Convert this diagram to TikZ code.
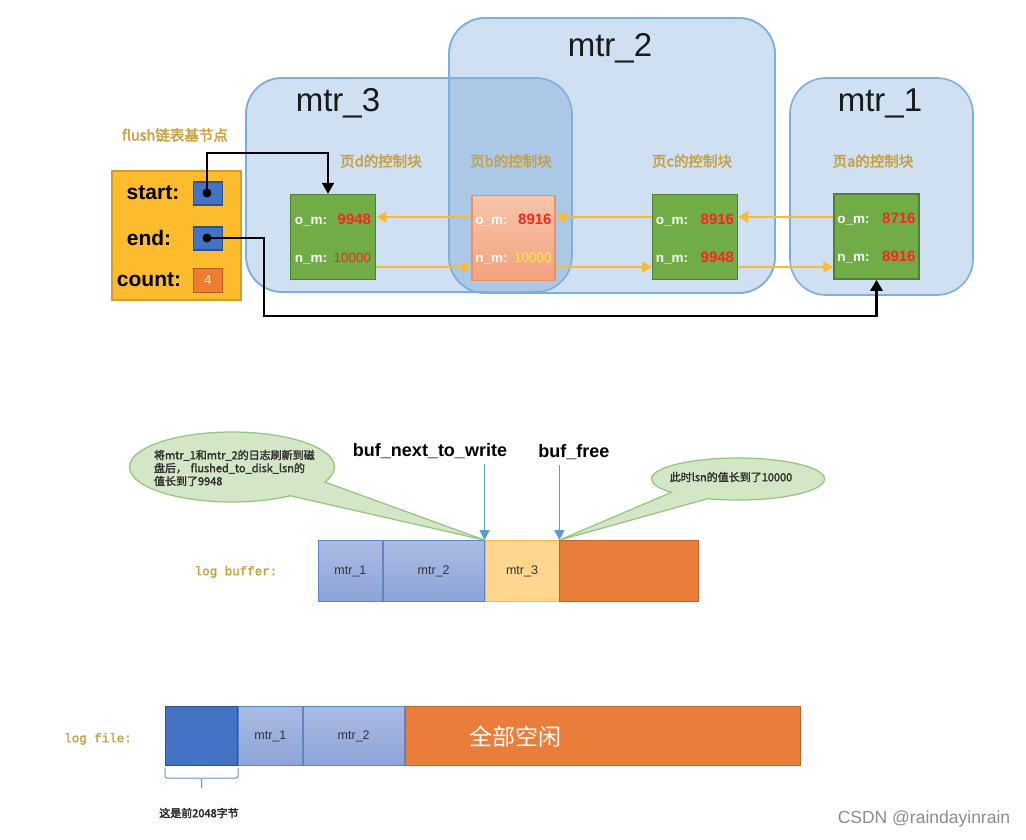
\documentclass[tikz,border=0pt]{standalone}
\usepackage{fontspec}
\setmainfont{Liberation Sans}
\newfontfamily\cjk[AutoFakeBold=2.5]{Noto Sans CJK SC}
\newfontfamily\monob[AutoFakeBold=2]{Liberation Mono}
\usetikzlibrary{arrows.meta,shapes.callouts,calc}
\newcommand\myfs[1]{\fontsize{#1}{#1}\selectfont}
\definecolor{mtrfill}{HTML}{CFE0F2}
\definecolor{mtrline}{HTML}{7EAEDC}
\definecolor{overlapc}{HTML}{ABC9E7}
\definecolor{goldc}{HTML}{C9A040}
\definecolor{flushfill}{HTML}{FCBC2E}
\definecolor{flushline}{HTML}{D89C2A}
\definecolor{ptrblue}{HTML}{4472C4}
\definecolor{ptrline}{HTML}{2F528F}
\definecolor{cntfill}{HTML}{ED7D31}
\definecolor{cntline}{HTML}{B85A20}
\definecolor{grn}{HTML}{70AD47}
\definecolor{grnline}{HTML}{507E32}
\definecolor{valred}{HTML}{FF2222}
\definecolor{valyel}{HTML}{FFF02A}
\definecolor{arrorange}{HTML}{FBBA34}
\definecolor{salmonA}{HTML}{F8C5A9}
\definecolor{salmonB}{HTML}{F3A27F}
\definecolor{salmonline}{HTML}{EE9060}
\definecolor{segA}{HTML}{ACBBE3}
\definecolor{segB}{HTML}{8CA4D8}
\definecolor{segline}{HTML}{5B86CC}
\definecolor{yelseg}{HTML}{FFD68E}
\definecolor{yelline}{HTML}{F5B840}
\definecolor{orng}{HTML}{EA7D3A}
\definecolor{orngline}{HTML}{BD632C}
\definecolor{callfill}{HTML}{D3E7C6}
\definecolor{callline}{HTML}{93C47D}
\definecolor{vline}{HTML}{5B9BD5}
\begin{document}
\begin{tikzpicture}[x=1pt,y=-1pt,
  mtrbox/.style={draw=mtrline, line width=1.6pt, fill=mtrfill, rounded corners=36pt, inner sep=0pt, outer sep=0pt},
  mtrlabel/.style={font=\myfs{33}, text=black!90, inner sep=0pt},
  goldlbl/.style={font=\cjk\bfseries\myfs{14.5}, text=goldc, inner sep=0pt},
  flushbox/.style={draw=flushline, fill=flushfill, line width=1.6pt, minimum width=129pt, minimum height=129pt, inner sep=0pt},
  ptrsq/.style={draw=ptrline, fill=ptrblue, line width=1.2pt, minimum width=29pt, minimum height=23pt, inner sep=0pt},
  cntsq/.style={draw=cntline, fill=cntfill, line width=1.2pt, minimum width=29pt, minimum height=24pt, inner sep=0pt, text=white, font=\myfs{13}},
  fieldlbl/.style={font=\bfseries\myfs{21}, inner sep=0pt},
  dotc/.style={circle, fill=black, minimum size=9pt, inner sep=0pt},
  pgblock/.style={draw=grnline, fill=grn, line width=1.5pt, minimum width=85pt, minimum height=85pt, inner sep=0pt},
  pgblockb/.style={draw=salmonline, top color=salmonA, bottom color=salmonB, line width=1.5pt, minimum width=83pt, minimum height=85pt, inner sep=0pt},
  keylbl/.style={font=\bfseries\myfs{13.5}, text=white, anchor=base west, inner sep=0pt},
  vallbl/.style={font=\bfseries\myfs{15}, text=valred, anchor=base east, inner sep=0pt},
  thinval/.style={font=\myfs{13.5}, text=valred, anchor=base east, inner sep=0pt},
  link/.style={draw=arrorange, line width=2.7pt, -{Triangle[length=10pt,width=11pt]}},
  blk/.style={draw=black, line width=2.4pt, -{Triangle[length=11pt,width=12pt]}},
  seg/.style={minimum height=61pt, inner sep=0pt, anchor=west, font=\myfs{12.5}, text=black!80},
  bluseg/.style={seg, draw=segline, top color=segA, bottom color=segB, line width=0.8pt},
  yseg/.style={seg, draw=yelline, fill=yelseg, line width=0.8pt},
  oseg/.style={seg, draw=orngline, fill=orng, line width=0.8pt},
  dseg/.style={seg, draw=ptrline, fill=ptrblue, line width=1pt},
  buflbl/.style={font=\bfseries\myfs{18}, inner sep=0pt},
  bufarrow/.style={draw=vline, line width=1.2pt, -{Triangle[length=10pt,width=10pt]}},
  callout/.style={ellipse callout, draw=callline, fill=callfill, line width=1.2pt, callout pointer arc=30, inner sep=0pt},
  calltxt/.style={font=\cjk\bfseries\myfs{11}, text=black!80, inner sep=0pt},
  monolbl/.style={font=\monob\bfseries\myfs{12.5}, text=goldc, inner sep=0pt}
]
\useasboundingbox (0,0) rectangle (1026,839);
\fill[white] (0,0) rectangle (1026,839);

% mtr groups
\node[mtrbox, minimum width=326pt, minimum height=214pt] (m3) at (409,185) {};
\node[mtrbox, minimum width=326pt, minimum height=275pt] (m2) at (612,155.5) {};
\node[mtrbox, minimum width=183pt, minimum height=217pt] (m1) at (881.5,186.5) {};
\begin{scope}
  \clip[rounded corners=36pt] (m3.north west) rectangle (m3.south east);
  \fill[overlapc, rounded corners=36pt] (m2.north west) rectangle (m2.south east);
\end{scope}
\draw[mtrline, line width=1.6pt, rounded corners=36pt] (m3.north west) rectangle (m3.south east);
\draw[mtrline, line width=1.6pt, rounded corners=36pt] (m2.north west) rectangle (m2.south east);
\node[mtrlabel] (t2) at (610,48) {mtr\_2};
\node[mtrlabel] (t3) at (338,103) {mtr\_3};
\node[mtrlabel] (t1) at (880,103) {mtr\_1};

% flush list base node
\node[goldlbl] (fl) at (175,135) {flush链表基节点};
\node[flushbox] (fb) at (176.5,235.5) {};
\node[fieldlbl] (fs) at (153,193) {start:};
\node[fieldlbl] (fe) at (149,238) {end:};
\node[fieldlbl] (fc) at (149,280) {count:};
\node[ptrsq] (ps) at (208,193.5) {};
\node[ptrsq] (pe) at (208,238.5) {};
\node[cntsq] (pcnt) at (208,280.5) {4};
\node[dotc] (sdot) at (207,193) {};
\node[dotc] (edot) at (207,238) {};

% page control blocks
\node[goldlbl] (ld) at (381,161) {页d的控制块};
\node[goldlbl] (lb) at (511,161) {页b的控制块};
\node[goldlbl] (lc) at (692,161) {页c的控制块};
\node[goldlbl] (la) at (873,161) {页a的控制块};

\node[pgblock] (pd) at (333,237) {};
\node[pgblockb] (pb) at (513.5,238) {};
\node[pgblock] (pc) at (695,237) {};
\node[pgblock] (pa) at (876.5,236.5) {};

\node[keylbl] (dk1) at ($(pd.west)+(5,-13)$) {o\_m:};
\node[vallbl] (dv1) at ($(pd.east)+(-5,-13)$) {9948};
\node[keylbl] (dk2) at ($(pd.west)+(5,25)$) {n\_m:};
\node[thinval] (dv2) at ($(pd.east)+(-5,25)$) {10000};

\node[keylbl] (bk1) at ($(pb.west)+(4,-14)$) {o\_m:};
\node[vallbl] (bv1) at ($(pb.east)+(-4,-14)$) {8916};
\node[keylbl] (bk2) at ($(pb.west)+(4,24)$) {n\_m:};
\node[thinval, text=valyel] (bv2) at ($(pb.east)+(-4,24)$) {10000};

\node[keylbl] (ck1) at ($(pc.west)+(4,-13)$) {o\_m:};
\node[vallbl] (cv1) at ($(pc.east)+(-4,-13)$) {8916};
\node[keylbl] (ck2) at ($(pc.west)+(4,25)$) {n\_m:};
\node[vallbl] (cv2) at ($(pc.east)+(-4,25)$) {9948};

\node[keylbl] (ak1) at ($(pa.west)+(4,-13)$) {o\_m:};
\node[vallbl] (av1) at ($(pa.east)+(-4,-13)$) {8716};
\node[keylbl] (ak2) at ($(pa.west)+(4,25)$) {n\_m:};
\node[vallbl] (av2) at ($(pa.east)+(-4,25)$) {8916};

\coordinate (yo) at (0,217);
\coordinate (yn) at (0,267);
\draw[link] (pb.west |- yo) -- (pd.east |- yo);
\draw[link] (pc.west |- yo) -- (pb.east |- yo);
\draw[link] (pa.west |- yo) -- (pc.east |- yo);
\draw[link] (pd.east |- yn) -- (pb.west |- yn);
\draw[link] (pb.east |- yn) -- (pc.west |- yn);
\draw[link] (pc.east |- yn) -- (pa.west |- yn);

\draw[blk] (sdot.center) -- ++(0,-40) -| ([xshift=-5pt]pd.north);
\draw[blk] (edot.center) -| ($(edot.center)+(57,78)$) -| (pa.south);

% log buffer
\node[bluseg, minimum width=64pt] (lb1) at (318,571) {mtr\_1};
\node[bluseg, minimum width=101pt] (lb2) at (lb1.east) {mtr\_2};
\node[yseg, minimum width=74pt] (lb3) at (lb2.east) {mtr\_3};
\node[oseg, minimum width=139pt] (lb4) at (lb3.east) {};
\node[monolbl] (lbl) at (236,572) {log buffer:};

% callouts
\node[callout, minimum width=205pt, minimum height=70pt, callout absolute pointer=(lb3.north west)] (c1) at (232,467) {};
\node[calltxt, align=left, text width=170pt] (c1t) at (239,468) {将mtr\_1和mtr\_2的日志刷新到磁\\[2pt]盘后， flushed\_to\_disk\_lsn的\\[2pt]值长到了9948};
\node[callout, minimum width=173pt, minimum height=42pt, callout absolute pointer=(lb4.north west)] (c2) at (738,479) {};
\node[calltxt] (c2t) at (731,477) {此时lsn的值长到了10000};

\node[buflbl] (bnw) at (430,451) {buf\_next\_to\_write};
\node[buflbl] (bf) at (574,452) {buf\_free};
\draw[bufarrow] (lb3.north west |- bnw.south) ++(0,5) -- (lb3.north west);
\draw[bufarrow] (lb4.north west |- bf.south) ++(0,5) -- (lb4.north west);

% log file
\node[dseg, minimum width=72pt, minimum height=59pt] (lf0) at (165,736) {};
\node[bluseg, minimum width=64pt, minimum height=59pt] (lf1) at (lf0.east) {mtr\_1};
\node[bluseg, minimum width=101pt, minimum height=59pt] (lf2) at (lf1.east) {mtr\_2};
\node[oseg, minimum width=395pt, minimum height=59pt] (lf3) at (lf2.east) {};
\node[font=\cjk\myfs{23}, text=white, inner sep=0pt] (free) at (515,737) {全部空闲};
\node[monolbl] (lfl) at (98,739) {log file:};

\draw[vline, line width=1pt, rounded corners=2pt] ($(lf0.south west)+(0,2)$) -- ++(0,10) -- ($(lf0.south)+(0,12)$) -- ++(0,10);
\draw[vline, line width=1pt, rounded corners=2pt] ($(lf0.south east)+(0,2)$) -- ++(0,10) -- ($(lf0.south)+(0,12)$);
\node[font=\cjk\bfseries\myfs{11}, text=black!85, inner sep=0pt] (note) at (199,813) {这是前2048字节};

\node[font=\myfs{17.5}, text=black!45, inner sep=0pt] (wm) at (924,819) {CSDN @raindayinrain};
\end{tikzpicture}
\end{document}
